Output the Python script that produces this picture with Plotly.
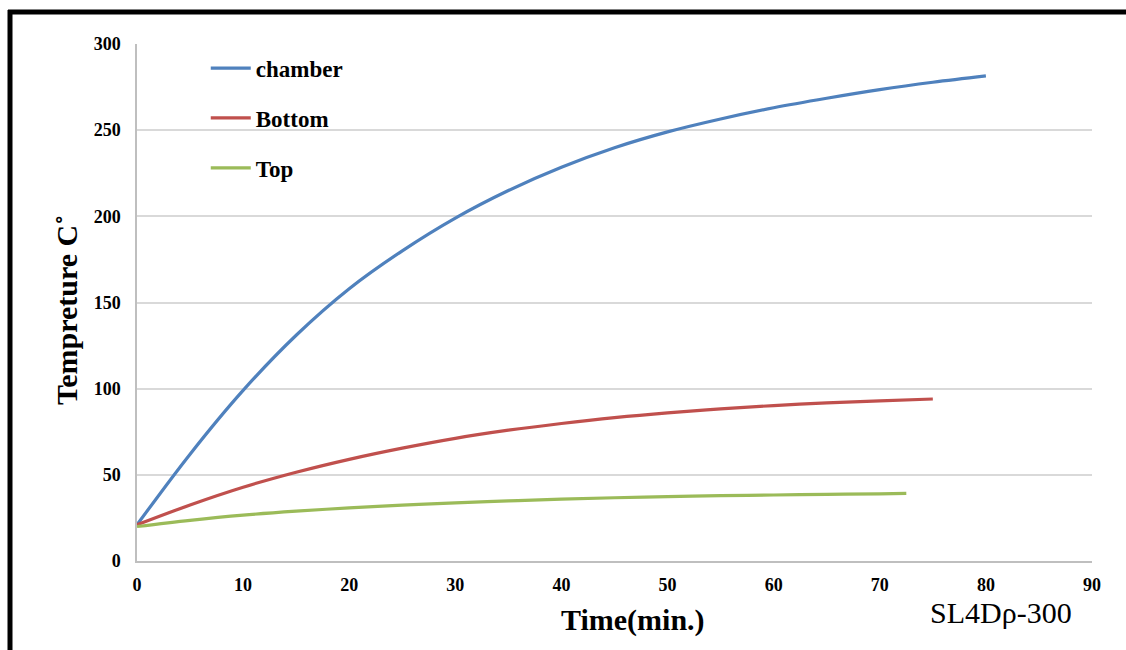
import plotly.graph_objects as go

# Heating curves, temperature (°C) against time (min)
time_chamber = [0, 5, 10, 15, 20, 25, 30, 35, 40, 45, 50, 55, 60, 65, 70, 75, 80]
temp_chamber = [21, 62, 99, 131, 158, 180, 199, 215, 228.5, 239.8, 249, 256.5, 263, 268.5, 273.5, 277.8, 281.5]

time_bottom = [0, 5, 10, 15, 20, 25, 30, 35, 40, 45, 50, 55, 60, 65, 70, 75]
temp_bottom = [21, 32.5, 42.8, 51.5, 59, 65.5, 71.2, 75.9, 79.8, 83.2, 86, 88.3, 90.2, 91.7, 92.9, 94]

time_top = [0, 5, 10, 15, 20, 25, 30, 35, 40, 45, 50, 55, 60, 65, 70, 72.5]
temp_top = [20, 23.6, 26.6, 28.9, 30.8, 32.4, 33.7, 34.9, 35.9, 36.7, 37.4, 37.9, 38.3, 38.7, 39, 39.2]

x_ticks = [0, 10, 20, 30, 40, 50, 60, 70, 80, 90]
y_ticks = [0, 50, 100, 150, 200, 250, 300]

SERIF = "Liberation Serif, Times New Roman, serif"

series = [
    ("chamber", time_chamber, temp_chamber, "#4F81BD"),
    ("Bottom", time_bottom, temp_bottom, "#C0504D"),
    ("Top", time_top, temp_top, "#9BBB59"),
]

fig = go.Figure()
for name, xs, ys, color in series:
    fig.add_trace(go.Scatter(
        x=xs, y=ys, name=name, mode="lines", legendgroup=name,
        line=dict(color=color, width=3.2, shape="spline", smoothing=1.0),
    ))

fig.update_layout(
    width=1126, height=650,
    margin=dict(l=137, r=34, t=44, b=89),
    paper_bgcolor="white", plot_bgcolor="white",
    font=dict(family=SERIF, color="black"),
    showlegend=True,
    legend=dict(
        x=0.072, y=0.995, xanchor="left", yanchor="top",
        bgcolor="rgba(0,0,0,0)", traceorder="grouped", tracegroupgap=17,
        font=dict(family=SERIF, size=23, color="black", weight="bold"),
        itemwidth=40,
    ),
    xaxis=dict(
        range=[0, 90], tickvals=x_ticks, showgrid=False, zeroline=False,
        showline=True, linecolor="#BFBFBF", linewidth=1.5,
        ticks="", ticklabelstandoff=7,
        tickfont=dict(family=SERIF, size=18, color="black", weight="bold"),
    ),
    yaxis=dict(
        range=[0, 300], tickvals=y_ticks, showgrid=True, gridcolor="#D9D9D9",
        gridwidth=1.5, zeroline=False,
        showline=True, linecolor="#BFBFBF", linewidth=1.5,
        ticks="", ticklabelstandoff=11,
        tickfont=dict(family=SERIF, size=18, color="black", weight="bold"),
    ),
)

# Axis titles and sample label
fig.add_annotation(
    text="Time(min.)", xref="paper", yref="paper",
    x=(633 - 137) / 955, y=(561 - 620) / 517, xanchor="center", yanchor="middle",
    showarrow=False, font=dict(family=SERIF, size=30, color="black", weight="bold"),
)
fig.add_annotation(
    text="Tempreture C\u02da", xref="paper", yref="paper", textangle=-90,
    x=(67 - 137) / 955, y=(561 - 310) / 517, xanchor="center", yanchor="middle",
    showarrow=False, font=dict(family=SERIF, size=30, color="black", weight="bold"),
)
fig.add_annotation(
    text="SL4D\u03c1-300", xref="paper", yref="paper",
    x=(1001 - 137) / 955, y=(561 - 612) / 517, xanchor="center", yanchor="middle",
    showarrow=False, font=dict(family=SERIF, size=30, color="black"),
)

# Black frame along the top and left edges of the figure
fig.add_shape(type="line", xref="paper", yref="paper",
              x0=(8 - 137) / 955, x1=(1130 - 137) / 955,
              y0=(561 - 12) / 517, y1=(561 - 12) / 517,
              line=dict(color="black", width=5))
fig.add_shape(type="line", xref="paper", yref="paper",
              x0=(10 - 137) / 955, x1=(10 - 137) / 955,
              y0=(561 - 10) / 517, y1=(561 - 655) / 517,
              line=dict(color="black", width=5))

fig.write_html("out.html")
